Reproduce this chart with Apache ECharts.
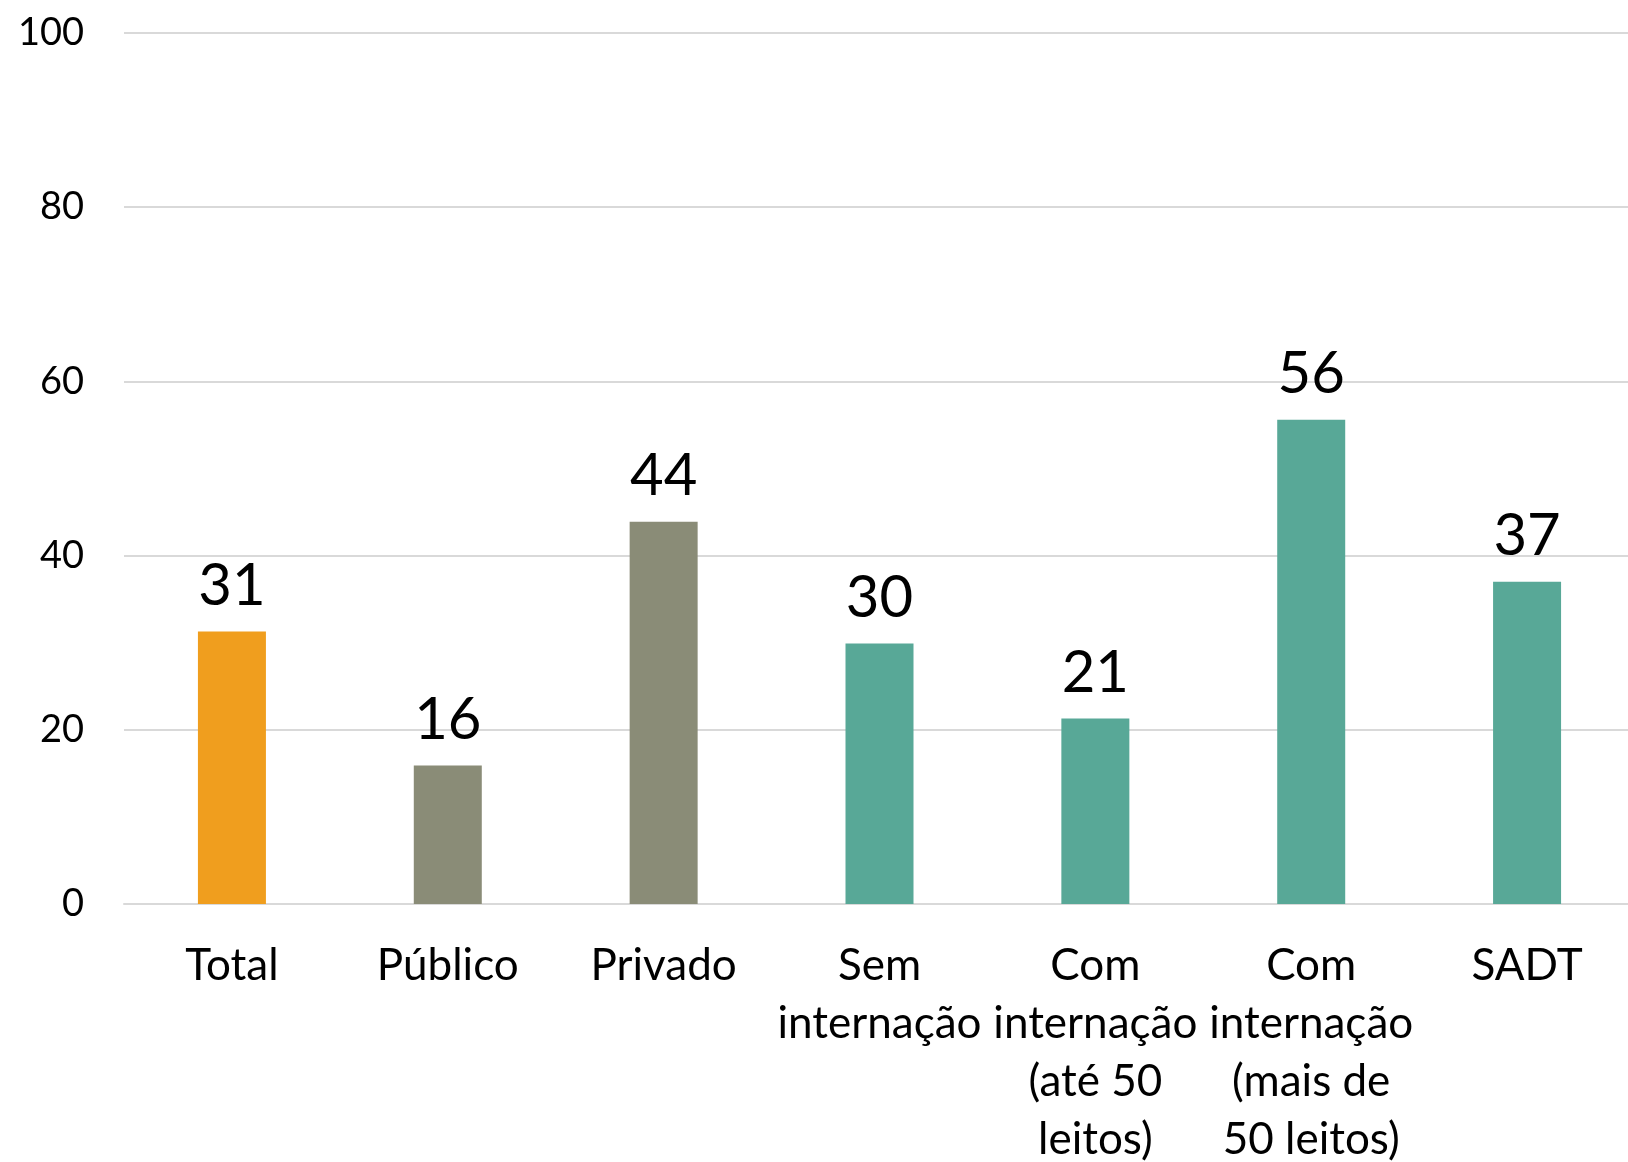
<!DOCTYPE html>
<html>
<head>
  <meta charset="utf-8">
  <title>Bar chart</title>
  <script src="https://cdn.jsdelivr.net/npm/echarts@6.0.0/dist/echarts.min.js"></script>
  <style>
    html, body { margin: 0; padding: 0; background: #fff; }
  </style>
</head>
<body>
  <div id="main" style="width: 1628px; height: 1162px;"></div>

  <script>
    // categorias e valores
    var categories = ['Total', 'Público', 'Privado', 'Sem\ninternação', 'Com\ninternação\n(até 50\nleitos)', 'Com\ninternação\n(mais de\n50 leitos)', 'SADT'];
    var values = [31.3, 15.9, 43.9, 29.9, 21.3, 55.6, 37.0];
    var barColors = ['#F09E1E', '#8A8C77', '#8A8C77', '#58A897', '#58A897', '#58A897', '#58A897'];
    var yTicks = [0, 20, 40, 60, 80, 100];

    var chartDom = document.getElementById('main');
    var myChart = echarts.init(chartDom);

    var fontName = 'Lato';

    var option = {
      animation: false,
      grid: {
        left: 124,
        top: 33,
        width: 1511,
        bottom: 1162 - 904,
        outerBoundsMode: 'none'
      },
      xAxis: {
        type: 'category',
        data: categories,
        axisLine: { show: true, lineStyle: { color: '#d9d9d9', width: 2 } },
        axisTick: { show: false },
        axisLabel: {
          interval: 0,
          color: '#000',
          fontFamily: fontName,
          fontSize: 44,
          lineHeight: 58,
          margin: 33
        }
      },
      yAxis: {
        type: 'value',
        min: yTicks[0],
        max: yTicks[yTicks.length - 1],
        interval: 20,
        axisLine: { show: false },
        axisTick: { show: false },
        splitLine: { lineStyle: { color: '#d9d9d9', width: 2 } },
        axisLabel: {
          color: '#000',
          fontFamily: fontName,
          fontSize: 38,
          margin: 40
        }
      },
      series: [
        {
          type: 'bar',
          barWidth: 68,
          data: values.map(function (v, i) {
            return { value: v, itemStyle: { color: barColors[i] } };
          }),
          label: {
            show: true,
            position: 'top',
            distance: 16,
            color: '#000',
            fontFamily: fontName,
            fontSize: 58,
            formatter: function (p) { return Math.round(p.value); }
          }
        }
      ]
    };

    option && myChart.setOption(option);
  </script>
</body>
</html>
